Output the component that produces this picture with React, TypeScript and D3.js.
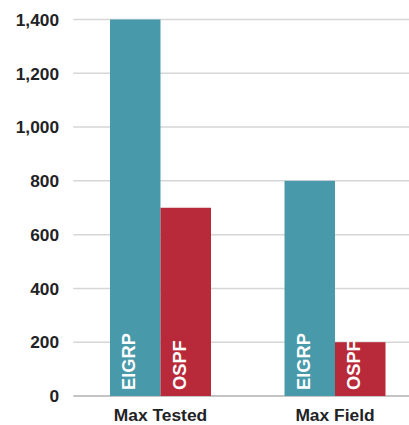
import React from "react";
import * as d3 from "d3";

const categories = ["Max Tested", "Max Field"];
const seriesNames = ["EIGRP", "OSPF"];
const eigrpValues = [1400, 800];
const ospfValues = [700, 200];
const yTicks = [0, 200, 400, 600, 800, 1000, 1200, 1400];
const colors = ["#4899AA", "#B82A3A"];

export default function App() {
  const width = 409;
  const height = 425;
  const left = 73.25;
  const right = 422.25;
  const top = 19.5;
  const bottom = 396;

  const x = d3.scaleBand<string>().domain(categories).range([left, right]).paddingInner(0).paddingOuter(0);
  const groupW = 101;
  const x1 = d3
    .scaleBand<string>()
    .domain(seriesNames)
    .range([(x.bandwidth() - groupW) / 2, (x.bandwidth() + groupW) / 2]);
  const y = d3.scaleLinear().domain([0, 1400]).range([bottom, top]);
  const series = [eigrpValues, ospfValues];
  const font = "'Liberation Sans', Arial, sans-serif";

  return (
    <svg width={width} height={height} style={{ position: "absolute", left: 0, top: 0 }}>
      {yTicks.map((t) => (
        <g key={t}>
          <line x1={left} x2={width} y1={y(t)} y2={y(t)} stroke={t === 0 ? "#c4c4c4" : "#d6d6d6"} strokeWidth={t === 0 ? 2 : 1.5} />
          <text x={59} y={y(t)} dy="0.36em" textAnchor="end" fontFamily={font} fontWeight="bold" fontSize={17.3} fill="#1f2326">
            {d3.format(",")(t)}
          </text>
        </g>
      ))}
      {categories.map((c, ci) => (
        <g key={c}>
          {seriesNames.map((s, si) => {
            const bx = (x(c) as number) + (x1(s) as number);
            const bw = x1.bandwidth();
            const v = series[si][ci];
            return (
              <g key={s}>
                <rect x={bx} y={y(v)} width={bw} height={y(0) - y(v)} fill={colors[si]} />
                <text
                  transform={`translate(${bx + bw / 2},${y(0) - 6}) rotate(-90)`}
                  fontFamily={font}
                  fontWeight="bold"
                  fontSize={18.3}
                  fill="#ffffff"
                >
                  {s}
                </text>
              </g>
            );
          })}
          <text x={(x(c) as number) + x.bandwidth() / 2} y={421} textAnchor="middle" fontFamily={font} fontWeight="bold" fontSize={17.4} fill="#1f2326">
            {c}
          </text>
        </g>
      ))}
    </svg>
  );
}
